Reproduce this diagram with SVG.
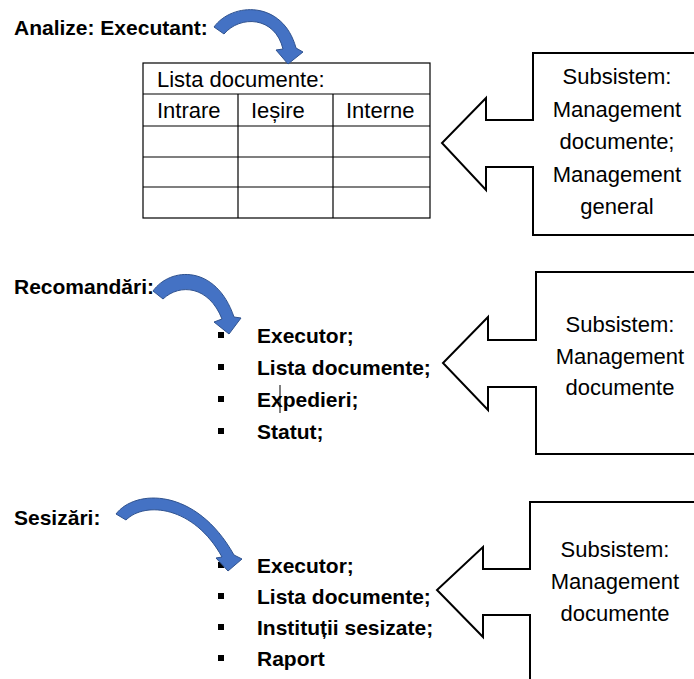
<svg xmlns="http://www.w3.org/2000/svg" width="694" height="679" viewBox="0 0 694 679">
<style>
.h{font-family:"Liberation Sans",Arial,sans-serif;font-weight:bold;font-size:21px;fill:#000}
.b{font-family:"Liberation Sans",Arial,sans-serif;font-weight:bold;font-size:21px;fill:#000}
.t{font-family:"Liberation Sans",Arial,sans-serif;font-size:22px;fill:#000}
.c{font-family:"Liberation Sans",Arial,sans-serif;font-size:22px;fill:#000;text-anchor:middle}
.grid{stroke:#000;stroke-width:1.2;fill:none}
.call{fill:#fff;stroke:#000;stroke-width:2;stroke-linejoin:miter}
.arr{fill:#4472C4;stroke:#2F528F;stroke-width:1}
.bul{fill:#000}
</style>
<rect width="694" height="679" fill="#fff"/>

<g id="heading-analize"><text class="h" x="14" y="35">Analize: Executant:</text></g>
<g id="heading-recomandari"><text class="h" x="14" y="294">Recomandări:</text></g>
<g id="heading-sesizari"><text class="h" x="14" y="525">Sesizări:</text></g>

<g id="table-documente">
<rect class="grid" x="143" y="63" width="287" height="155"/>
<line class="grid" x1="143" y1="94" x2="430" y2="94"/>
<line class="grid" x1="143" y1="126" x2="430" y2="126"/>
<line class="grid" x1="143" y1="157" x2="430" y2="157"/>
<line class="grid" x1="143" y1="187" x2="430" y2="187"/>
<line class="grid" x1="238" y1="94" x2="238" y2="218"/>
<line class="grid" x1="333" y1="94" x2="333" y2="218"/>
<text class="t" x="157" y="87">Lista documente:</text>
<text class="t" x="157" y="118">Intrare</text>
<text class="t" x="251" y="118">Ieșire</text>
<text class="t" x="346" y="118">Interne</text>
</g>

<g id="list-recomandari">
<rect class="bul" x="218" y="332" width="6" height="6"/>
<rect class="bul" x="218" y="364" width="6" height="6"/>
<rect class="bul" x="218" y="396" width="6" height="6"/>
<rect class="bul" x="218" y="428" width="6" height="6"/>
<text class="b" x="257" y="343">Executor;</text>
<text class="b" x="257" y="375">Lista documente;</text>
<text class="b" x="257" y="407">Expedieri;</text>
<text class="b" x="257" y="439">Statut;</text>
<line x1="280" y1="385" x2="280" y2="413" stroke="#000" stroke-width="1"/>
</g>

<g id="list-sesizari">
<rect class="bul" x="218" y="562" width="6" height="6"/>
<rect class="bul" x="218" y="593" width="6" height="6"/>
<rect class="bul" x="218" y="624" width="6" height="6"/>
<rect class="bul" x="218" y="655" width="6" height="6"/>
<text class="b" x="257" y="573">Executor;</text>
<text class="b" x="257" y="604">Lista documente;</text>
<text class="b" x="257" y="635">Instituții sesizate;</text>
<text class="b" x="257" y="666">Raport</text>
</g>

<g id="callout-1">
<path class="call" d="M700,53 H533 V120 H486 V98 L442,143 L486,190 V167 H533 V235 H700"/>
<text class="c" x="617" y="84">Subsistem:</text>
<text class="c" x="617" y="117">Management</text>
<text class="c" x="617" y="149">documente;</text>
<text class="c" x="617" y="182">Management</text>
<text class="c" x="617" y="214">general</text>
</g>

<g id="callout-2">
<path class="call" d="M700,272 H536 V340 H488 V317 L443,363 L488,410 V387 H536 V454 H700"/>
<text class="c" x="620" y="332">Subsistem:</text>
<text class="c" x="620" y="364">Management</text>
<text class="c" x="620" y="395">documente</text>
</g>

<g id="callout-3">
<path class="call" d="M700,502 H530 V569 H483 V547 L437,590 L483,637 V615 H530 V690"/>
<text class="c" x="615" y="557">Subsistem:</text>
<text class="c" x="615" y="589">Management</text>
<text class="c" x="615" y="621">documente</text>
</g>

<g id="connectors">
<path class="arr" d="M214,27 C232,2 283,0 296,48 L303,52 L288,64 L276,50 L283,49 C275,16 240,15 224,34 Z"/>
<path class="arr" d="M153,291 C170,267 216,264 234,317 L241,318 L229,334 L214,322 L222,319 C209,286 180,283 163,299 Z"/>
<path class="arr" d="M116,514 C135,489 196,487 234,555 L242,559 L228,571 L216,558 L222,557 C194,506 145,501 126,520 Z"/>
</g>
</svg>
